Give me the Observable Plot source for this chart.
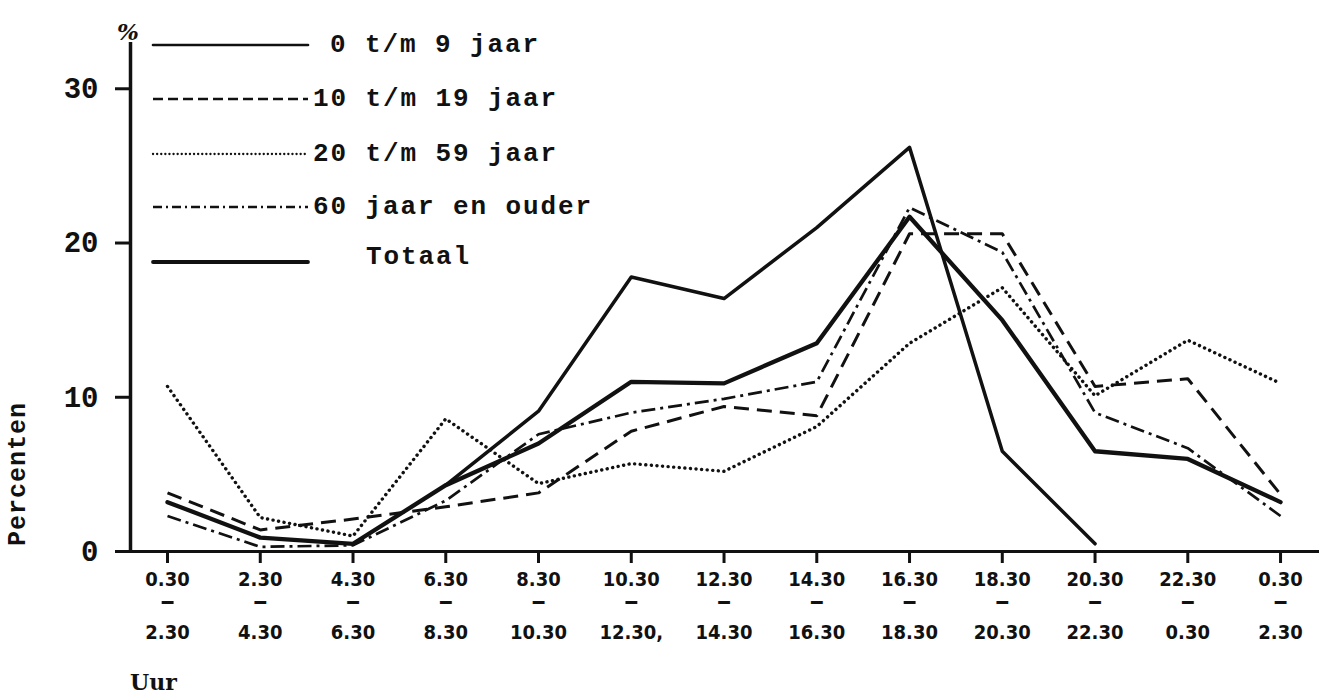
<!DOCTYPE html>
<html><head><meta charset="utf-8">
<script src="https://cdn.jsdelivr.net/npm/d3@7"></script>
<script src="https://cdn.jsdelivr.net/npm/@observablehq/plot@0.6"></script>
<style>
html,body{margin:0;padding:0;background:#fff;}
#chart{width:1319px;height:698px;overflow:hidden;}
</style></head><body><div id="chart"></div>
<script>
// Time slots (two-hour periods)
const topLabels = ["0.30","2.30","4.30","6.30","8.30","10.30","12.30","14.30","16.30","18.30","20.30","22.30","0.30"];
const bottomLabels = ["2.30","4.30","6.30","8.30","10.30","12.30,","14.30","16.30","18.30","20.30","22.30","0.30","2.30"];
const yTicks = [0, 10, 20, 30];

// Series (percent per period)
const age0to9   = [null, null, null, 4.3, 9.1, 17.8, 16.4, 21.0, 26.2, 6.5, 0.5, null, null];
const age10to19 = [3.8, 1.4, 2.1, 2.9, 3.8, 7.8, 9.4, 8.8, 20.6, 20.6, 10.7, 11.2, 3.7];
const age20to59 = [10.7, 2.2, 1.0, 8.6, 4.4, 5.7, 5.2, 8.1, 13.5, 17.1, 10.1, 13.7, 10.9];
const age60plus = [2.3, 0.3, 0.4, 3.3, 7.6, 9.0, 9.9, 11.0, 22.3, 19.4, 9.0, 6.7, 2.3];
const totaal    = [3.2, 0.9, 0.5, 4.3, 7.0, 11.0, 10.9, 13.5, 21.7, 15.0, 6.5, 6.0, 3.2];

const seriesNames = ["0 t/m 9 jaar", "10 t/m 19 jaar", "20 t/m 59 jaar", "60 jaar en ouder", "Totaal"];

const ink = "#111";
const styles = [
  {strokeWidth: 3.5, strokeDasharray: null, strokeLinecap: "round"},
  {strokeWidth: 3, strokeDasharray: "15 8", strokeLinecap: "butt"},
  {strokeWidth: 3.4, strokeDasharray: "0.1 5.5", strokeLinecap: "round"},
  {strokeWidth: 2.7, strokeDasharray: "14 5 3 5", strokeLinecap: "butt"},
  {strokeWidth: 4.3, strokeDasharray: null, strokeLinecap: "round"}
];
const allSeries = [age0to9, age10to19, age20to59, age60plus, totaal];
const idx = topLabels.map((_, i) => i);
const xDomain = [-0.399, 12.42];
const tickFont = "'DejaVu Sans Condensed','Liberation Sans Narrow','Roboto Condensed',sans-serif";

const lineMarks = allSeries.map((vals, s) => {
  const rows = vals.map((v, i) => ({i, v, series: seriesNames[s]}));
  return Plot.line(rows, {x: "i", y: "v", stroke: ink, strokeLinejoin: "round", ...styles[s]});
});

const chart = Plot.plot({
  width: 1319, height: 698,
  marginLeft: 130, marginRight: 0, marginTop: 42, marginBottom: 147,
  style: {background: "#fff", color: ink, fontFamily: "'Liberation Mono', monospace"},
  x: {type: "linear", domain: xDomain, axis: null},
  y: {domain: [0, 33], axis: null},
  marks: [
    Plot.ruleY([0], {stroke: ink, strokeWidth: 3}),
    Plot.ruleX([xDomain[0]], {y1: 0, y2: 33, stroke: ink, strokeWidth: 3.5}),
    Plot.axisY({ticks: yTicks, tickSize: 15, tickPadding: 17, fontSize: 29, fontWeight: "bold",
      fontFamily: "'Liberation Mono', monospace", strokeWidth: 3, label: null}),
    Plot.axisX({ticks: idx, tickSize: 12, strokeWidth: 3, tickFormat: () => "", label: null}),
    Plot.text(idx, {x: d => d, frameAnchor: "bottom", text: i => topLabels[i], dy: 34,
      fontSize: 20, fontWeight: "bold", fontFamily: tickFont}),
    Plot.text(idx, {x: d => d, frameAnchor: "bottom", text: () => "━", dy: 57,
      fontSize: 19, fontWeight: "bold", fontFamily: "'DejaVu Sans Mono',monospace"}),
    Plot.text(idx, {x: d => d, frameAnchor: "bottom", text: i => bottomLabels[i], dy: 87,
      fontSize: 20, fontWeight: "bold", fontFamily: tickFont}),
    ...lineMarks
  ]
});
document.getElementById("chart").appendChild(chart);

// Legend and annotations overlaid inside the SVG
const svg = d3.select(chart);
const legendRows = [45, 99, 154, 207, 262];
const legendTextY = [52, 106, 161, 214, 264];
const legendTextX = [330, 313, 313, 313, 366];
const g = svg.append("g").attr("text-anchor", "start");
seriesNames.forEach((name, s) => {
  const st = styles[s];
  g.append("line").attr("x1", 153).attr("x2", 308).attr("y1", legendRows[s]).attr("y2", legendRows[s])
    .attr("stroke", ink).attr("stroke-width", s === 0 ? 2.6 : (s === 4 ? 3.8 : 2.3))
    .attr("stroke-dasharray", s === 1 ? "10 5" : s === 2 ? "0.1 4" : s === 3 ? "9 4 2 4" : null)
    .attr("stroke-linecap", st.strokeLinecap);
  g.append("text").attr("x", legendTextX[s]).attr("y", legendTextY[s]).attr("text-anchor", "start")
    .attr("font-family", "'Liberation Mono', monospace").attr("font-size", 26).attr("font-weight", "bold")
    .attr("letter-spacing", 1.9).attr("fill", ink).text(name);
});
g.append("text").attr("x", 128).attr("y", 40).attr("text-anchor", "middle")
  .attr("font-family", "'DejaVu Serif', serif").attr("font-style", "italic").attr("font-weight", "bold")
  .attr("font-size", 23).attr("fill", ink).text("%");
g.append("text").attr("transform", "translate(25,474) rotate(-90)").attr("text-anchor", "middle")
  .attr("font-family", "'Liberation Mono', monospace").attr("font-size", 25).attr("font-weight", "bold")
  .attr("letter-spacing", 1).attr("fill", ink).text("Percenten");
g.append("text").attr("x", 130).attr("y", 690).attr("text-anchor", "start")
  .attr("font-family", "'DejaVu Serif', serif").attr("font-size", 22).attr("font-weight", "bold")
  .attr("fill", ink).text("Uur");
</script></body></html>
